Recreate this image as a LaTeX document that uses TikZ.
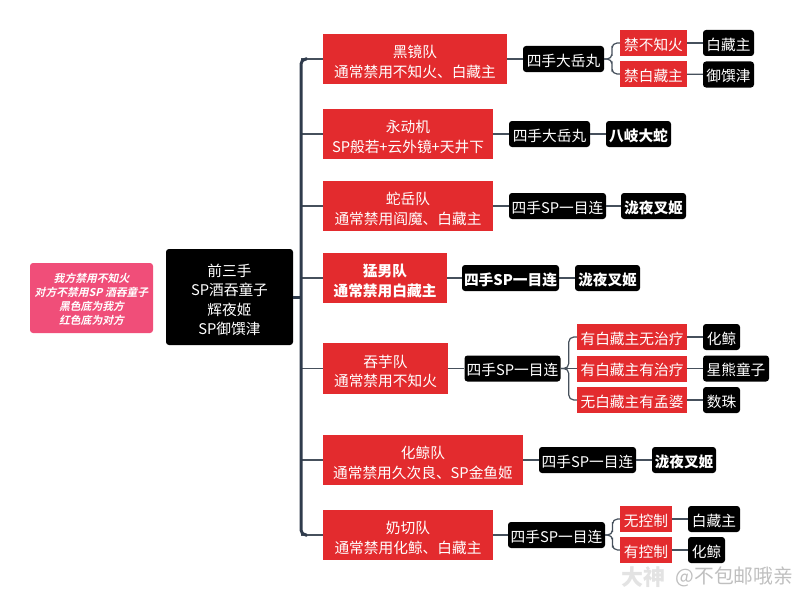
\documentclass[tikz,border=0pt]{standalone}
\usepackage{fontspec}
\setmainfont{Noto Sans CJK SC}
\newfontfamily\legendfont[FakeSlant=0.22,UprightFont=* Bold]{Noto Sans CJK SC}
\usetikzlibrary{calc}
\definecolor{teamred}{HTML}{E32B2E}
\definecolor{notepink}{HTML}{F04E79}
\definecolor{stemgray}{HTML}{2F3B4C}
\definecolor{twiggray}{HTML}{46505C}
\newcommand{\lift}{\rule{0pt}{18pt}}

\begin{document}
\begin{tikzpicture}[x=1pt, y=-1pt,
    font=\fontsize{14.7}{19.5}\selectfont,
    redbox/.style={fill=teamred, text=white, inner sep=0pt, align=center, minimum height=26,
      execute at begin node={\rule{0pt}{16pt}}},
    blackbox/.style={fill=black, text=white, inner sep=0pt, align=center, rounded corners=3, minimum height=26,
      execute at begin node={\rule{0pt}{16pt}}},
    stem/.style={draw=stemgray, line width=3pt, rounded corners=5},
    twig/.style={draw=twiggray, line width=1.2pt, rounded corners=5}]
  \useasboundingbox (0,0) rectangle (800,594);

  % --- Note and root
  \node[fill=notepink, text=white, rounded corners=3, inner sep=0pt, align=center,
        minimum width=123, minimum height=70, font=\legendfont\fontsize{10.8}{14.2}\selectfont]
    (note) at (91.5,298) {\rule{0pt}{12pt}我方禁用不知火\\对方不禁用SP 酒吞童子\\黑色底为我方\\红色底为对方};
  \node[blackbox, minimum width=127, minimum height=96] (root) at (229.5,297)
    {\lift 前三手\\SP酒吞童子\\辉夜姬\\SP御馔津};

  % --- Teams (first level)
  \node[redbox, minimum width=184, minimum height=50] (heijing) at (415,59) {\lift 黑镜队\\通常禁用不知火、白藏主};
  \node[redbox, minimum width=170, minimum height=50] (yongdong) at (408,134) {\lift 永动机\\SP般若+云外镜+天井下};
  \node[redbox, minimum width=170, minimum height=50] (sheyue) at (408,206) {\lift 蛇岳队\\通常禁用阎魔、白藏主};
  \node[redbox, minimum width=124, minimum height=50, font=\fontsize{14.7}{19.5}\selectfont\bfseries] (mengnan) at (385,278) {\lift 猛男队\\通常禁用白藏主};
  \node[redbox, minimum width=125, minimum height=51] (tunyu) at (385.5,368.5) {\lift 吞芋队\\通常禁用不知火};
  \node[redbox, minimum width=200, minimum height=50] (huajing) at (423,460) {\lift 化鲸队\\通常禁用久次良、SP金鱼姬};
  \node[redbox, minimum width=170, minimum height=50] (naiqie) at (408,535) {\lift 奶切队\\通常禁用化鲸、白藏主};

  % --- Fourth picks
  \node[blackbox, minimum width=81] (four1) at (563.5,59) {四手大岳丸};
  \node[blackbox, minimum width=81] (four2) at (549.5,134) {四手大岳丸};
  \node[blackbox, minimum width=97] (four3) at (557.5,206) {四手SP一目连};
  \node[blackbox, minimum width=97, font=\fontsize{14.7}{19.5}\selectfont\bfseries] (four4) at (510.5,278) {四手SP一目连};
  \node[blackbox, minimum width=96] (four5) at (512.5,368.5) {四手SP一目连};
  \node[blackbox, minimum width=97] (four6) at (587.5,460) {四手SP一目连};
  \node[blackbox, minimum width=97] (four7) at (556.5,535) {四手SP一目连};

  % --- Conditions
  \node[redbox, minimum width=67] (jinbuzhi) at (653.5,43) {禁不知火};
  \node[redbox, minimum width=67] (jinbai) at (653.5,74) {禁白藏主};
  \node[redbox, minimum width=110] (wuzhi) at (632,337) {有白藏主无治疗};
  \node[redbox, minimum width=110] (youzhi) at (632,368.5) {有白藏主有治疗};
  \node[redbox, minimum width=110] (mengpo) at (632,400) {无白藏主有孟婆};
  \node[redbox, minimum width=52] (wukong) at (646,519) {无控制};
  \node[redbox, minimum width=52] (youkong) at (646,550) {有控制};

  % --- Final picks
  \node[blackbox, minimum width=51] (end11) at (728.5,43) {白藏主};
  \node[blackbox, minimum width=51] (end12) at (728.5,74.5) {御馔津};
  \node[blackbox, minimum width=65, font=\fontsize{14.7}{19.5}\selectfont\bfseries] (end2) at (638.5,134) {八岐大蛇};
  \node[blackbox, minimum width=65, font=\fontsize{14.7}{19.5}\selectfont\bfseries] (end3) at (653.5,206) {泷夜叉姬};
  \node[blackbox, minimum width=65, font=\fontsize{14.7}{19.5}\selectfont\bfseries] (end4) at (607.5,278) {泷夜叉姬};
  \node[blackbox, minimum width=37] (end51) at (721.5,337) {化鲸};
  \node[blackbox, minimum width=66] (end52) at (736,368.5) {星熊童子};
  \node[blackbox, minimum width=37] (end53) at (721.5,400) {数珠};
  \node[blackbox, minimum width=64, font=\fontsize{14.7}{19.5}\selectfont\bfseries] (end6) at (684,460) {泷夜叉姬};
  \node[blackbox, minimum width=52] (end71) at (714,519) {白藏主};
  \node[blackbox, minimum width=37] (end72) at (706.5,550) {化鲸};

  % --- Trunk
  \coordinate (trunk) at (301,297);
  \coordinate (trunktop) at (307,59);
  \coordinate (trunkbot) at (307,535);
  \foreach \t in {heijing,yongdong,sheyue,mengnan,tunyu,huajing,naiqie} {
    \draw[twig] (trunk |- \t.west) -- (\t.west);
  }
  \draw[stem] (trunktop) -| (trunk) |- (trunkbot);
  \draw[stem] (root.east) -- (trunk);

  % --- Team to fourth pick to final pick
  \foreach \a/\b in {heijing/four1,yongdong/four2,sheyue/four3,mengnan/four4,tunyu/four5,huajing/four6,naiqie/four7,
      four2/end2,four3/end3,four4/end4,four6/end6,four5/youzhi,
      jinbuzhi/end11,jinbai/end12,wuzhi/end51,youzhi/end52,mengpo/end53,wukong/end71,youkong/end72} {
    \draw[twig] (\a) -- (\b);
  }

  % --- Forks
  \foreach \a/\b in {four1/jinbuzhi,four1/jinbai,four5/wuzhi,four5/mengpo,four7/wukong,four7/youkong} {
    \draw[twig] (\a.east) -| ($(\a.east)!0.5!(\b.west)$) |- (\b.west);
  }

  % --- Watermark
  \node[text=gray!22, font=\fontsize{22}{22}\selectfont\bfseries] (mark) at (643,577) {大神};
  \node[text=gray!50, font=\fontsize{19.8}{20}\selectfont, anchor=west] (user) at (672,577) {@不包邮哦亲};
\end{tikzpicture}
\end{document}
